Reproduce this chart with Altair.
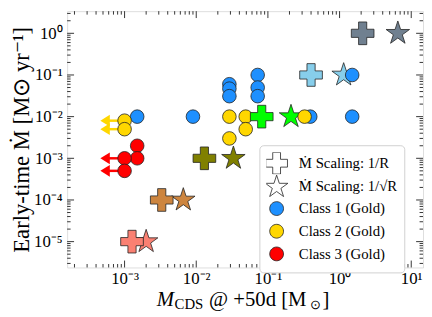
import altair as alt
import pandas as pd
import math

# ---------------- data ----------------
blue_x = [1.5e-3, 9.0e-3, 0.029, 0.029, 0.029, 0.072, 0.072, 0.072, 0.39, 1.5, 1.5]
blue_y = [0.01, 0.01, 0.06, 0.047, 0.031, 0.1, 0.05, 0.031, 0.01, 0.01, 0.1]

yellow_x = [1.0e-3, 1.0e-3, 0.029, 0.049, 0.049, 0.029, 0.325]
yellow_y = [0.008, 0.005, 0.01, 0.01, 0.005, 0.003, 0.01]
yellow_ul = [True, True, False, False, False, False, False]

red_x = [1.5e-3, 1.5e-3, 1.0e-3, 1.0e-3]
red_y = [0.002, 0.001, 0.001, 0.0005]
red_ul = [False, False, True, True]

pair_colors = ["#708090", "#87CEEB", "#00FF00", "#808000", "#CD853F", "#FA8072"]
cross_x = [2.1, 0.40, 0.082, 0.013, 0.0033, 0.00127]
star_x = [6.5, 1.14, 0.21, 0.033, 0.0066, 0.0020]
pair_y = [1.0, 0.1, 0.01, 0.001, 1e-4, 1e-5]

legend_labels = ["Ṁ Scaling: 1/R", "Ṁ Scaling: 1/√R",
                 "Class 1 (Gold)", "Class 2 (Gold)", "Class 3 (Gold)"]

BLUE, GOLD, RED = "#1E90FF", "#FFD700", "#FF0000"
FONT = "Liberation Serif"
W, H = 361, 260

# ---------------- shapes ----------------
def star_path(s=1.0, inner=0.382, dy=0.0):
    pts = []
    for i in range(10):
        r = s if i % 2 == 0 else inner * s
        a = math.radians(-90 + 36 * i)
        pts.append((r * math.cos(a), r * math.sin(a) + dy))
    return "M" + "L".join(f"{x:.4f},{y:.4f}" for x, y in pts) + "Z"

def cross_path(s=1.0, a=0.36):
    return (f"M{-a*s:.4f},{-s:.4f}H{a*s:.4f}V{-a*s:.4f}H{s:.4f}V{a*s:.4f}H{a*s:.4f}"
            f"V{s:.4f}H{-a*s:.4f}V{a*s:.4f}H{-s:.4f}V{-a*s:.4f}H{-a*s:.4f}Z")

def circle_path(r):
    return f"M{-r},0A{r},{r} 0 1,0 {r},0A{r},{r} 0 1,0 {-r},0Z"

STAR = star_path()
CROSS = cross_path()
HEAD = "M-0.8,0L0.8,-1L0.8,1Z"
ARROW_FACTOR = 1.87

# ---------------- frames ----------------
blue_df = pd.DataFrame({"x": blue_x, "y": blue_y})
yellow_df = pd.DataFrame({"x": yellow_x, "y": yellow_y, "ul": yellow_ul})
red_df = pd.DataFrame({"x": red_x, "y": red_y, "ul": red_ul})
cross_df = pd.DataFrame({"x": cross_x, "y": pair_y, "c": pair_colors})
star_df = pd.DataFrame({"x": star_x, "y": pair_y, "c": pair_colors})

ul_rows = []
for df, col in ((yellow_df, GOLD), (red_df, RED)):
    for _, r in df[df["ul"]].iterrows():
        ul_rows.append({"x": r["x"], "x2": r["x"] / ARROW_FACTOR, "y": r["y"], "c": col})
arrow_df = pd.DataFrame(ul_rows)

# legend-only points, placed outside the domain and clipped away
legend_df = pd.DataFrame({"label": legend_labels, "x": [1e-9] * 5, "y": [1e-9] * 5})

# ---------------- axes ----------------
xdom = [1.58e-4, 14.6]
ydom = [2.4e-6, 3.4]
sup = {-6: "⁻⁶", -5: "⁻⁵", -4: "⁻⁴", -3: "⁻³", -2: "⁻²", -1: "⁻¹", 0: "⁰", 1: "¹"}

def tick_values(lo, hi, major):
    vals = []
    for e in range(-7, 3):
        for k in range(1, 10):
            v = k * 10.0 ** e
            if lo <= v <= hi and ((k == 1) == major):
                vals.append(v)
    return vals

def label_expr(exps):
    expr = "''"
    for e in exps:
        v = 10.0 ** e
        expr = f"(abs(datum.value - {v:g}) < {v * 1e-3:g}) ? '10{sup[e]}' : " + expr
    return expr

common = dict(grid=False, domain=False, ticks=False, labelOverlap=False, labelFlush=False)

x_bottom = alt.Axis(values=tick_values(*xdom, True), labelExpr=label_expr([-3, -2, -1, 0, 1]),
                    title=None, labelFont=FONT, labelFontSize=17, labelColor="black",
                    labelPadding=3, **common)
y_left = alt.Axis(values=tick_values(*ydom, True), labelExpr=label_expr([-5, -4, -3, -2, -1, 0]),
                  title="Early-time Ṁ [M⊙ yr⁻¹]", titleFont=FONT, titleFontSize=23,
                  titleFontWeight="normal", titleColor="black", titlePadding=0,
                  labelFont=FONT, labelFontSize=17, labelColor="black", labelPadding=5,
                  **common)

xs = alt.Scale(type="log", domain=xdom)
ys = alt.Scale(type="log", domain=ydom)

def X(axis=None, field="x"):
    return alt.X(f"{field}:Q", scale=xs, axis=axis)

def Y(axis=None, field="y"):
    return alt.Y(f"{field}:Q", scale=ys, axis=axis)

# inward ticks on all four sides
tick_layers = []
for major, L in ((True, 7), (False, 3.5)):
    xt = pd.DataFrame({"t": tick_values(*xdom, major)})
    yt = pd.DataFrame({"t": tick_values(*ydom, major)})
    tick_layers += [
        alt.Chart(xt).mark_rule(color="black", strokeWidth=0.8).encode(
            x=X(field="t"), y=alt.value(H), y2=alt.value(H - L)),
        alt.Chart(xt).mark_rule(color="black", strokeWidth=0.8).encode(
            x=X(field="t"), y=alt.value(0), y2=alt.value(L)),
        alt.Chart(yt).mark_rule(color="black", strokeWidth=0.8).encode(
            y=Y(field="t"), x=alt.value(0), x2=alt.value(L)),
        alt.Chart(yt).mark_rule(color="black", strokeWidth=0.8).encode(
            y=Y(field="t"), x=alt.value(W), x2=alt.value(W - L)),
    ]

EDGE = dict(stroke="#222222", strokeWidth=0.8)

stars = alt.Chart(star_df).mark_point(filled=True, opacity=1, shape=STAR, size=625, **EDGE).encode(
    x=X(x_bottom), y=Y(y_left), fill=alt.Fill("c:N", scale=None))

arrows_shaft = alt.Chart(arrow_df).mark_rule(strokeWidth=2.5).encode(
    x=X(), x2="x2:Q", y=Y(), color=alt.Color("c:N", scale=None))
arrows_head = alt.Chart(arrow_df).mark_point(filled=True, opacity=1, shape=HEAD, size=144).encode(
    x=X(field="x2"), y=Y(), fill=alt.Fill("c:N", scale=None))

blue = alt.Chart(blue_df).mark_point(filled=True, opacity=1, shape="circle", size=190,
                                     fill=BLUE, **EDGE).encode(x=X(), y=Y())
yellow = alt.Chart(yellow_df).mark_point(filled=True, opacity=1, shape="circle", size=190,
                                         fill=GOLD, **EDGE).encode(x=X(), y=Y())
red = alt.Chart(red_df).mark_point(filled=True, opacity=1, shape="circle", size=190,
                                   fill=RED, **EDGE).encode(x=X(), y=Y())
crosses = alt.Chart(cross_df).mark_point(filled=True, opacity=1, shape=CROSS, size=529, **EDGE).encode(
    x=X(), y=Y(), fill=alt.Fill("c:N", scale=None))

# legend symbols: unit size 20px, shapes scaled inside it
LEG_SIZE = 400
LEG_SHAPES = [cross_path(22 / 20), star_path(24 / 20, dy=0.11), circle_path(14 / 20),
              circle_path(14 / 20), circle_path(14 / 20)]

legend_layer = alt.Chart(legend_df).mark_point(filled=True, opacity=1, clip=True, size=LEG_SIZE,
                                               stroke="#222222", strokeWidth=0.8).encode(
    x=X(), y=Y(),
    fill=alt.Fill("label:N", scale=alt.Scale(domain=legend_labels,
                                             range=["white", "white", BLUE, GOLD, RED]),
                  legend=alt.Legend(orient="none", legendX=195, legendY=136, title=None,
                                    symbolStrokeColor="#222222", symbolSize=LEG_SIZE,
                                    symbolStrokeWidth=0.8, labelFont=FONT, labelFontSize=15,
                                    labelColor="black", strokeColor="#d0d0d0", fillColor="white",
                                    cornerRadius=4, padding=7, rowPadding=0, clipHeight=22.5,
                                    labelOffset=12)),
    shape=alt.Shape("label:N", scale=alt.Scale(domain=legend_labels, range=LEG_SHAPES)),
)

def txt(s, x, y, size, italic=False):
    kw = dict(fontStyle="italic") if italic else {}
    return alt.Chart(pd.DataFrame({"t": [s]})).mark_text(
        align="left", baseline="alphabetic", font=FONT, fontSize=size, color="black", **kw
    ).encode(text="t:N", x=alt.value(x), y=alt.value(y))

x_title = [
    txt("M", 91, 299, 21, italic=True),
    txt("CDS", 109, 302, 15),
    txt("@ +50d [M", 144, 299, 21),
    txt("⊙", 246, 302, 13),
    txt("]", 259, 299, 21),
]

chart = alt.layer(
    *tick_layers, stars, arrows_shaft, arrows_head, blue, yellow, red, crosses, legend_layer,
    *x_title
).resolve_scale(
    fill="independent", shape="independent", color="independent"
).resolve_axis(
    x="independent", y="independent"
).properties(
    width=W, height=H, padding={"left": 3, "top": 0, "right": 0, "bottom": 0}
).configure_view(
    stroke="black", strokeWidth=1
).configure(font=FONT, background="white")

chart.save("out.html", embed_options={"renderer": "svg", "actions": False})
